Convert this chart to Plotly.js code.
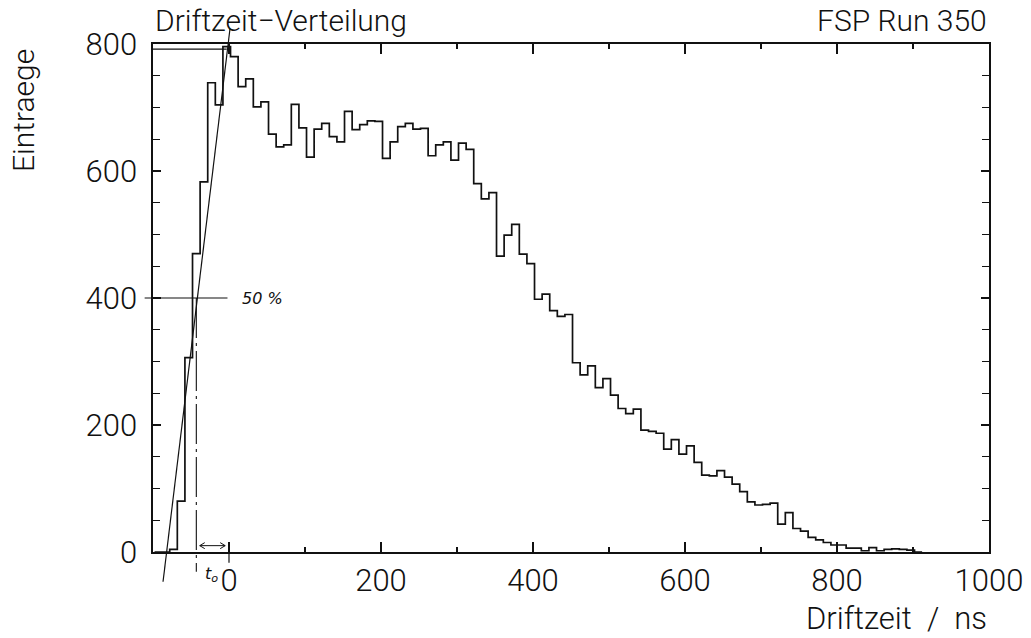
<!DOCTYPE html>
<html>
<head>
<meta charset="utf-8">
<script src="https://cdn.plot.ly/plotly-3.0.1.min.js"></script>
<style>html,body{margin:0;padding:0;background:#fff;}#chart{width:1031px;height:638px;}</style>
</head>
<body>
<div id="chart"></div>
<script>
// Histogram binning (ns)
const binStart = -98;
const binWidth = 10;
// Entries per 10 ns bin, starting at binStart
const counts = [
  0, 0, 4, 80, 306, 470, 583, 739, 704, 796,
  780, 733, 745, 701, 709, 658, 638, 641, 705, 668,
  622, 666, 675, 654, 646, 694, 665, 673, 679, 678,
  620, 646, 670, 675, 666, 667, 624, 641, 646, 617,
  644, 634, 580, 556, 566, 466, 499, 516, 469, 454,
  398, 406, 380, 371, 374, 298, 279, 293, 259, 273,
  247, 226, 218, 225, 192, 190, 187, 162, 177, 154,
  167, 141, 121, 120, 128, 118, 107, 95, 79, 74,
  75, 77, 44, 62, 37, 33, 23, 19, 15, 11,
  11, 6, 6, 2, 7, 2, 4, 5, 4, 3,
  0, 0
];
// Axis ranges and tick labels
const xRange = [-100, 1000];
const yRange = [0, 800];
const xTickVals = [0, 200, 400, 600, 800, 1000];
const yTickVals = [0, 200, 400, 600, 800];

// Hand-drawn analysis marks (data units)
const fitLine = {x: [-86.8, 1.3], y: [-46.8, 824]};
const maxLevel = 792;
const halfLevel = 400;
const t0Cross = -43;
const t0Arrow = {x: [-38.5, -5], y: 10};

const edges = counts.map((c, i) => binStart + i * binWidth);

// plot area size in pixels (for arrowhead sizing)
const M = {l: 153, r: 42, t: 44, b: 86};
const W = 1031, H = 638;
const plotW = W - M.l - M.r, plotH = H - M.t - M.b;

function px(x) { return (x - xRange[0]) / (xRange[1] - xRange[0]); }
function py(y) { return (y - yRange[0]) / (yRange[1] - yRange[0]); }

const ink = '#111';
const font = {family: 'Roboto, "DejaVu Sans", sans-serif', size: 31, color: ink, weight: 300};
const headFont = Object.assign({}, font, {size: 30});
const hand = {family: '"DejaVu Sans", sans-serif', size: 16, color: ink, style: 'italic', weight: 300};

const trace = {
  type: 'scatter', mode: 'lines', x: edges, y: counts,
  line: {shape: 'hv', color: ink, width: 1.7},
  hoverinfo: 'skip', showlegend: false
};

// double-headed arrow between t0 crossing and zero
const ax0 = px(t0Arrow.x[0]), ax1 = px(t0Arrow.x[1]), ay = py(t0Arrow.y);
const hx = 5 / plotW, hy = 3 / plotH;
const arrowPath = 'M' + ax0 + ',' + ay + ' L' + ax1 + ',' + ay +
  ' M' + (ax0 + hx) + ',' + (ay + hy) + ' L' + ax0 + ',' + ay + ' L' + (ax0 + hx) + ',' + (ay - hy) +
  ' M' + (ax1 - hx) + ',' + (ay + hy) + ' L' + ax1 + ',' + ay + ' L' + (ax1 - hx) + ',' + (ay - hy);

const shapes = [
  // fit line across rising edge
  {type: 'line', xref: 'paper', yref: 'paper', x0: px(fitLine.x[0]), y0: py(fitLine.y[0]), x1: px(fitLine.x[1]), y1: py(fitLine.y[1]), line: {color: ink, width: 1.2}},
  // maximum level line
  {type: 'line', xref: 'paper', yref: 'paper', x0: px(-100), y0: py(maxLevel), x1: px(-3), y1: py(maxLevel), line: {color: ink, width: 1.2}},
  // 50% line
  {type: 'line', xref: 'paper', yref: 'paper', x0: px(-111), y0: py(halfLevel), x1: px(-2), y1: py(halfLevel), line: {color: ink, width: 1.2}},
  // vertical dash-dot at 50% crossing
  {type: 'line', xref: 'paper', yref: 'paper', x0: px(t0Cross), y0: py(halfLevel), x1: px(t0Cross), y1: py(-31), line: {color: ink, width: 1.1, dash: '40px,5px,3px,5px'}},
  // mark below zero tick
  {type: 'line', xref: 'paper', yref: 'paper', x0: px(0), y0: py(0), x1: px(0), y1: py(-17), line: {color: ink, width: 1.2}},
  // t0 arrow
  {type: 'path', xref: 'paper', yref: 'paper', path: arrowPath, line: {color: ink, width: 1}}
];

const annotations = [
  {xref: 'paper', yref: 'paper', x: 0, y: 1, xanchor: 'left', yanchor: 'bottom', yshift: 4, text: 'Driftzeit\u2212Verteilung', showarrow: false, font: headFont},
  {xref: 'paper', yref: 'paper', x: 1, y: 1, xanchor: 'right', yanchor: 'bottom', yshift: 4, text: 'FSP Run 350', showarrow: false, font: headFont},
  {xref: 'paper', yref: 'paper', x: 1, y: 0, xanchor: 'right', yanchor: 'middle', yshift: -66, text: 'Driftzeit  /  ns', showarrow: false, font: font},
  {xref: 'paper', yref: 'paper', x: 0, y: 1, xanchor: 'center', yanchor: 'middle', xshift: -130, yshift: -67, textangle: -90, text: 'Eintraege', showarrow: false, font: headFont},
  {xref: 'paper', yref: 'paper', x: px(14), y: py(halfLevel), xanchor: 'left', yanchor: 'middle', text: '50 %', showarrow: false, font: hand},
  {xref: 'paper', yref: 'paper', x: px(-23), y: py(-35), xanchor: 'center', yanchor: 'middle', text: 't<sub>o</sub>', showarrow: false, font: hand}
];

const layout = {
  width: W, height: H,
  margin: {l: M.l, r: M.r, t: M.t, b: M.b, pad: 0},
  paper_bgcolor: '#fff', plot_bgcolor: '#fff',
  showlegend: false,
  xaxis: {
    range: xRange, tickvals: xTickVals, ticktext: xTickVals.map(String),
    ticks: 'inside', ticklen: 10, tickwidth: 1.3, tickcolor: ink,
    minor: {dtick: 100, tick0: 0, ticks: 'inside', ticklen: 5, tickwidth: 1.3, tickcolor: ink, showgrid: false},
    showline: true, linecolor: ink, linewidth: 1.6, mirror: 'ticks',
    showgrid: false, zeroline: false, tickfont: font, ticklabelstandoff: 0
  },
  yaxis: {
    range: yRange, tickvals: yTickVals, ticktext: yTickVals.map(String),
    ticks: 'inside', ticklen: 8, tickwidth: 1.3, tickcolor: ink,
    minor: {dtick: 50, tick0: 0, ticks: 'inside', ticklen: 7, tickwidth: 1.3, tickcolor: ink, showgrid: false},
    showline: true, linecolor: ink, linewidth: 1.6, mirror: 'ticks',
    showgrid: false, zeroline: false, tickfont: font, ticklabelstandoff: 8
  },
  shapes: shapes,
  annotations: annotations
};

Plotly.newPlot('chart', [trace], layout, {staticPlot: true, displayModeBar: false}).then(function () {
  // drop Plotly's hidden text-measuring svg and empty placeholder text nodes
  var tester = document.getElementById('js-plotly-tester');
  if (tester && tester.parentNode) tester.parentNode.removeChild(tester);
  document.querySelectorAll('text').forEach(function (t) {
    if (!t.textContent.trim()) t.parentNode.removeChild(t);
  });
});
</script>
</body>
</html>
